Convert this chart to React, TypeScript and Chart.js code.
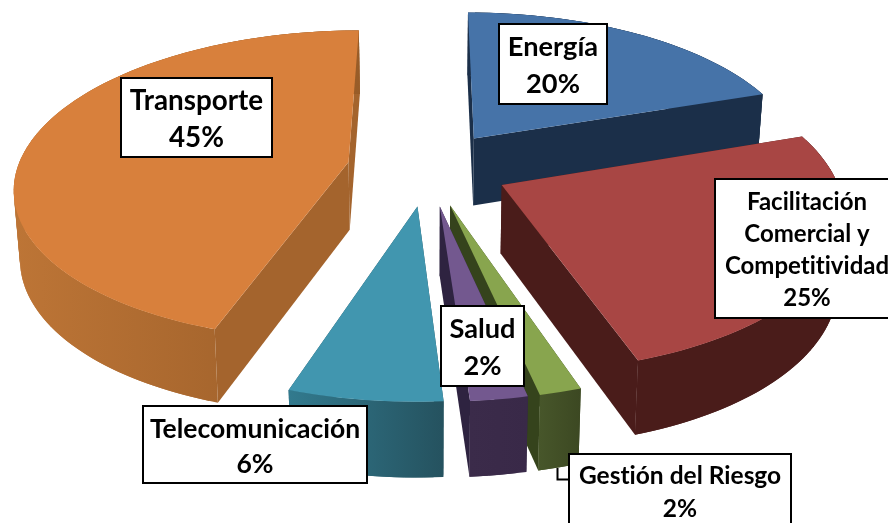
import React, { useEffect, useRef } from "react";
import { Chart, registerables } from "chart.js";

Chart.register(...registerables);

const categories = ["Energía", "Facilitación Comercial y Competitividad", "Gestión del Riesgo", "Salud", "Telecomunicación", "Transporte"];
const values = [19.8, 25.1, 1.7, 2.3, 6.2, 44.9];
const topColors = ["#4673a8", "#a84644", "#88a54e", "#73588f", "#4196af", "#d8803c"];
const radialWalls = ["#1b2f49", "#4a1c1a", "#35431c", "#2e2340", "#27535f", "#a4642d"];
const wallLeft = ["#1b2f49", "#4a1c1a", "#47562a", "#3b2b4a", "#327a8e", "#bd7536"];
const wallRight = ["#1b2f49", "#4a1c1a", "#3c4822", "#392948", "#25525f", "#985c28"];
const labelLines = [["Energía"], ["Facilitación", "Comercial y", "Competitividad"], ["Gestión del Riesgo"], ["Salud"], ["Telecomunicación"], ["Transporte"]];
// label box: left, top, width, height, font px, line height
const labelBoxes = [
  [499, 24, 108, 80, 27.2, 37],
  [715, 179, 190, 139, 24, 32],
  [569, 454, 222, 74, 24.5, 33],
  [441, 306, 83, 80, 27.2, 37],
  [143, 406, 224, 77, 26.5, 35],
  [121, 78, 151, 79, 27.8, 37],
];
const drawOrder = [5, 0, 1, 2, 3, 4];

const CENTER_X = 428, CENTER_Y = 168, PLANE_X = 331, PLANE_Y = 153, PERSPECTIVE = 0.15, DEPTH = 68;

const project = (u: number, v: number, t: number) => {
  const s = 1 / (1 - PERSPECTIVE * v);
  const shrink = 1 - 0.015 * t;
  return {
    x: CENTER_X + PLANE_X * u * s * shrink,
    y: CENTER_Y + PLANE_Y * v * s + t * DEPTH * (1 + 0.5 * (s - 1)),
  };
};

const pieProjection = {
  id: "pieProjection",
  beforeDatasetsDraw(chart: any) {
    const ctx = chart.ctx as CanvasRenderingContext2D;
    const arcs = chart.getDatasetMeta(0).data;
    const poly = (pts: { x: number; y: number }[], fill: string | CanvasGradient) => {
      ctx.beginPath();
      pts.forEach((p, i) => (i ? ctx.lineTo(p.x, p.y) : ctx.moveTo(p.x, p.y)));
      ctx.closePath();
      ctx.fillStyle = fill;
      ctx.fill();
    };
    drawOrder.forEach((i) => {
      const arc = arcs[i];
      const { startAngle, endAngle, outerRadius } = arc.getProps(["startAngle", "endAngle", "outerRadius"], true);
      const mid = (startAngle + endAngle) / 2;
      const e = arc.options.offset / outerRadius;
      const ox = Math.cos(mid) * e, oy = Math.sin(mid) * e;
      const n = Math.max(4, Math.round((endAngle - startAngle) * 40));
      const rim = (t: number) => {
        const pts = [];
        for (let k = 0; k <= n; k++) {
          const a = startAngle + ((endAngle - startAngle) * k) / n;
          pts.push(project(ox + Math.cos(a), oy + Math.sin(a), t));
        }
        return pts;
      };
      const top = rim(0), bot = rim(1);
      const apex0 = project(ox, oy, 0), apex1 = project(ox, oy, 1);
      poly([apex0, top[0], bot[0], apex1], radialWalls[i]);
      poly([apex0, top[n], bot[n], apex1], radialWalls[i]);
      const xs = top.map((p) => p.x);
      const grad = ctx.createLinearGradient(Math.min(...xs), 0, Math.max(...xs), 0);
      grad.addColorStop(0, wallLeft[i]);
      grad.addColorStop(1, wallRight[i]);
      // overlapping quads, so that the wall shows no seams and folds stay filled
      for (let k = 0; k < n; k++) {
        const j = Math.min(k + 2, n);
        poly([top[k], top[j], bot[j], bot[k]], grad);
      }
      poly([apex0, ...top], arc.options.backgroundColor);
    });

    // leader line of the Gestión label
    ctx.beginPath();
    ctx.moveTo(557.5, 468);
    ctx.lineTo(557.5, 479.5);
    ctx.lineTo(570, 479.5);
    ctx.strokeStyle = "#000";
    ctx.lineWidth = 2;
    ctx.stroke();

    const total = values.reduce((a, b) => a + b, 0);
    labelBoxes.forEach(([x, y, w, h, fs, lh], i) => {
      ctx.fillStyle = "#fff";
      ctx.fillRect(x, y, w, h);
      ctx.strokeStyle = "#000";
      ctx.lineWidth = 2;
      ctx.strokeRect(x, y, w, h);
      ctx.fillStyle = "#000";
      ctx.font = `700 ${fs}px Lato`;
      (ctx as any).letterSpacing = "0.01px";
      ctx.textAlign = "center";
      ctx.textBaseline = "middle";
      const lines = [...labelLines[i], `${Math.round((values[i] / total) * 100)}%`];
      const cx = i === 1 ? 807 : i === 2 ? 680 : x + w / 2;
      lines.forEach((t, j) => {
        ctx.fillText(t, cx, y + h / 2 + 2 + (j - (lines.length - 1) / 2) * lh);
      });
    });
    return false;
  },
};

export default function App() {
  const ref = useRef<HTMLCanvasElement>(null);
  useEffect(() => {
    const chart = new Chart(ref.current!, {
      type: "pie",
      data: {
        labels: categories,
        datasets: [{ data: values, backgroundColor: topColors, offset: 57, borderWidth: 0 }],
      },
      options: {
        responsive: false,
        animation: false,
        devicePixelRatio: 1,
        plugins: { legend: { display: false }, tooltip: { enabled: false } },
      },
      plugins: [pieProjection],
    });
    return () => chart.destroy();
  }, []);
  return (
    <div style={{ position: "fixed", left: 0, top: 0, width: 888, height: 523, overflow: "hidden", background: "#fff" }}>
      <canvas ref={ref} width={888} height={523} style={{ display: "block" }} />
    </div>
  );
}
